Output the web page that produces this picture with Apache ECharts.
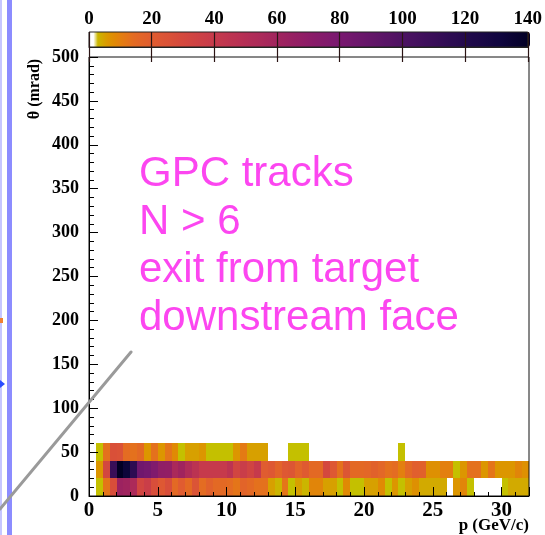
<!DOCTYPE html>
<html>
<head>
<meta charset="utf-8">
<script src="https://cdn.jsdelivr.net/npm/echarts@6/dist/echarts.min.js"></script>
<style>
  html, body { margin: 0; padding: 0; background: #ffffff; }
  #chart { width: 545px; height: 535px; }
</style>
</head>
<body>
<div id="chart"></div>
<script>
// Momentum bins (GeV/c): 0.5 GeV wide, lower edges from 0 to 31.5
const P_BIN = 0.5;
const pLow = Array.from({ length: 64 }, (_, i) => i * P_BIN);

// Polar angle bins (mrad): 20 mrad wide, lower edges
const TH_BIN = 20;
const thetaLow = [0, 20, 40];

// Track counts per momentum bin, one array per theta bin (0 = empty cell)
const counts0to20 = [
  0, 2, 12, 27, 62, 60, 54, 32, 37, 27, 22, 27, 15, 20, 15, 24,
  14, 18, 15, 15, 14, 12, 17, 15, 13, 13, 5, 3, 12, 2, 5, 3,
  9, 9, 5, 5, 2, 8, 2, 2, 5, 5, 8, 2, 6, 2, 5, 7,
  4, 4, 4, 4, 0, 6, 9, 2, 0, 0, 0, 0, 2, 4, 4, 4
];
const counts20to40 = [
  0, 6, 31, 110, 140, 132, 115, 84, 82, 76, 68, 67, 55, 60, 52, 46,
  40, 40, 40, 40, 45, 32, 38, 33, 40, 20, 22, 17, 22, 23, 17, 21,
  15, 15, 30, 22, 13, 23, 15, 15, 16, 18, 16, 13, 14, 10, 15, 19,
  18, 7, 7, 10, 10, 2, 6, 13, 13, 6, 12, 6, 6, 6, 9, 7
];
const counts40to60 = [
  0, 2, 13, 26, 25, 14, 13, 15, 6, 13, 6, 12, 8, 2, 5, 5,
  6, 2, 2, 2, 2, 6, 11, 5, 5, 5, 0, 0, 0, 2, 2, 2,
  0, 0, 0, 0, 0, 0, 0, 0, 0, 0, 0, 0, 0, 2, 0, 0,
  0, 0, 0, 0, 0, 0, 0, 0, 0, 0, 0, 0, 0, 0, 0, 0
];
const countRows = [counts0to20, counts20to40, counts40to60];

// Axis ranges
const pRange = [0, 32];
const thetaRange = [0, 500];
const zRange = [0, 140];

// Colour palette anchors (count -> colour)
const paletteStops = [
  [0, '#ffffff'], [1.5, '#ffffff'], [2, '#c4c000'], [4, '#d2aa00'], [6, '#dc9600'],
  [8, '#e08a04'], [11, '#e47a14'], [14, '#e46c22'], [20, '#e05c30'], [30, '#d4483e'],
  [40, '#c63a4c'], [50, '#b42e56'], [60, '#a0245e'], [70, '#8c1c68'], [80, '#781870'],
  [90, '#621668'], [100, '#4c1262'], [110, '#380e58'], [120, '#220a4c'], [130, '#100640'],
  [140, '#020024']
];

function hexToRgb(h) {
  return [parseInt(h.slice(1, 3), 16), parseInt(h.slice(3, 5), 16), parseInt(h.slice(5, 7), 16)];
}
function paletteAt(v) {
  for (let i = 1; i < paletteStops.length; i++) {
    const [v1, c1] = paletteStops[i];
    const [v0, c0] = paletteStops[i - 1];
    if (v <= v1) {
      const t = (v - v0) / (v1 - v0);
      const a = hexToRgb(c0), b = hexToRgb(c1);
      const m = a.map((x, j) => Math.round(x + (b[j] - x) * t));
      return 'rgb(' + m.join(',') + ')';
    }
  }
  return paletteStops[paletteStops.length - 1][1];
}
const paletteColors = [];
for (let v = zRange[0]; v <= zRange[1]; v += 0.5) paletteColors.push(paletteAt(v));

// Cell list [pLow, thetaLow, count]
const cells = [];
countRows.forEach((row, r) => {
  row.forEach((n, k) => {
    if (n > 0) cells.push([pLow[k], thetaLow[r], n]);
  });
});

function renderCell(params, api) {
  const p0 = api.value(0), t0 = api.value(1);
  const a = api.coord([p0, t0 + TH_BIN]);
  const b = api.coord([p0 + P_BIN, t0]);
  const x0 = Math.round(a[0]), x1 = Math.round(b[0]);
  const y0 = Math.round(a[1]), y1 = Math.round(b[1]);
  return {
    type: 'rect',
    shape: { x: x0, y: y0, width: x1 - x0, height: y1 - y0 },
    style: { fill: api.visual('color') }
  };
}

const serif = 'Liberation Serif, Times New Roman, serif';

const chart = echarts.init(document.getElementById('chart'), null, { renderer: 'canvas' });
chart.setOption({
  animation: false,
  backgroundColor: '#ffffff',
  grid: [
    { left: 89, top: 57, right: 16, bottom: 39, show: true, borderColor: '#111', borderWidth: 1, backgroundColor: 'transparent', z: 5 },
    { left: 89, top: 32, right: 15, height: 15, show: true, borderColor: '#222', borderWidth: 1, backgroundColor: 'transparent', z: 10 }
  ],
  xAxis: [
    {
      gridIndex: 0, type: 'value', min: pRange[0], max: pRange[1], interval: 5, z: 5,
      axisLine: { show: true, lineStyle: { color: '#000', width: 1 } },
      axisTick: { show: true, inside: true, length: 9, lineStyle: { color: '#000', width: 1 } },
      minorTick: { show: true, splitNumber: 5, length: 4, lineStyle: { color: '#000', width: 1 } },
      splitLine: { show: false },
      axisLabel: { fontFamily: serif, fontWeight: 'bold', fontSize: 21, color: '#000', margin: 4, showMaxLabel: false }
    },
    {
      gridIndex: 1, type: 'value', min: zRange[0], max: zRange[1], interval: 20, position: 'top', z: 10,
      axisLine: { show: true, lineStyle: { color: '#222', width: 1 } },
      axisTick: { show: true, inside: true, length: 15, lineStyle: { color: '#2a1414', width: 1.2 } },
      splitLine: { show: true, lineStyle: { color: '#2a1414', width: 1.2 } },
      axisLabel: { fontFamily: serif, fontWeight: 'bold', fontSize: 19, color: '#000', margin: 3 }
    }
  ],
  yAxis: [
    {
      gridIndex: 0, type: 'value', min: thetaRange[0], max: thetaRange[1], interval: 50, z: 5,
      axisLine: { show: true, lineStyle: { color: '#000', width: 1 } },
      axisTick: { show: true, inside: true, length: 9, lineStyle: { color: '#000', width: 1 } },
      minorTick: { show: true, splitNumber: 5, length: 5, lineStyle: { color: '#000', width: 1 } },
      splitLine: { show: false },
      axisLabel: { fontFamily: serif, fontWeight: 'bold', fontSize: 18, color: '#000', margin: 10 }
    },
    { gridIndex: 1, type: 'value', min: 0, max: 1, show: false }
  ],
  visualMap: {
    type: 'continuous',
    min: zRange[0], max: zRange[1],
    dimension: 2, seriesIndex: 0,
    orient: 'horizontal',
    left: 89, top: 32,
    itemWidth: 15, itemHeight: 441,
    padding: 0,
    calculable: false, realtime: false, hoverLink: false,
    inRange: { color: paletteColors },
    textStyle: { color: 'transparent' },
    z: 1
  },
  series: [
    {
      type: 'custom',
      xAxisIndex: 0, yAxisIndex: 0,
      renderItem: renderCell,
      encode: { x: 0, y: 1 },
      data: cells,
      silent: true
    }
  ],
  graphic: [
    { type: 'rect', left: 0, top: 0, shape: { width: 2, height: 535 }, style: { fill: '#c6c6ff' }, silent: true },
    { type: 'rect', left: 7, top: 0, shape: { width: 5, height: 535 }, style: { fill: '#8c8cff' }, silent: true },
    { type: 'polygon', shape: { points: [[0, 380], [5, 384], [0, 388]] }, style: { fill: '#2a4cff' }, silent: true },
    { type: 'rect', shape: { x: 0, y: 318, width: 3, height: 5 }, style: { fill: '#f08030' }, silent: true },
    { type: 'line', z: 20, shape: { x1: 0, y1: 509, x2: 131, y2: 352 }, style: { stroke: '#9a9a9a', lineWidth: 3, lineCap: 'round' }, silent: true },
    {
      type: 'text', z: 20, left: 139, top: 150, silent: true,
      style: {
        text: 'GPC tracks\nN > 6\nexit from target\ndownstream face',
        font: '42px "Liberation Sans", Arial, sans-serif',
        fill: '#fc46f0',
        lineHeight: 48
      }
    },
    {
      type: 'text', z: 20, x: 35, y: 89, rotation: Math.PI / 2, silent: true,
      style: {
        text: 'θ (mrad)',
        font: 'bold 16px "Liberation Serif", serif',
        fill: '#000', align: 'center', verticalAlign: 'middle'
      }
    },
    {
      type: 'text', z: 20, x: 529, y: 526, silent: true,
      style: {
        text: 'p (GeV/c)',
        font: 'bold 17px "Liberation Serif", serif',
        fill: '#000', align: 'right', verticalAlign: 'middle'
      }
    }
  ]
});
</script>
</body>
</html>
